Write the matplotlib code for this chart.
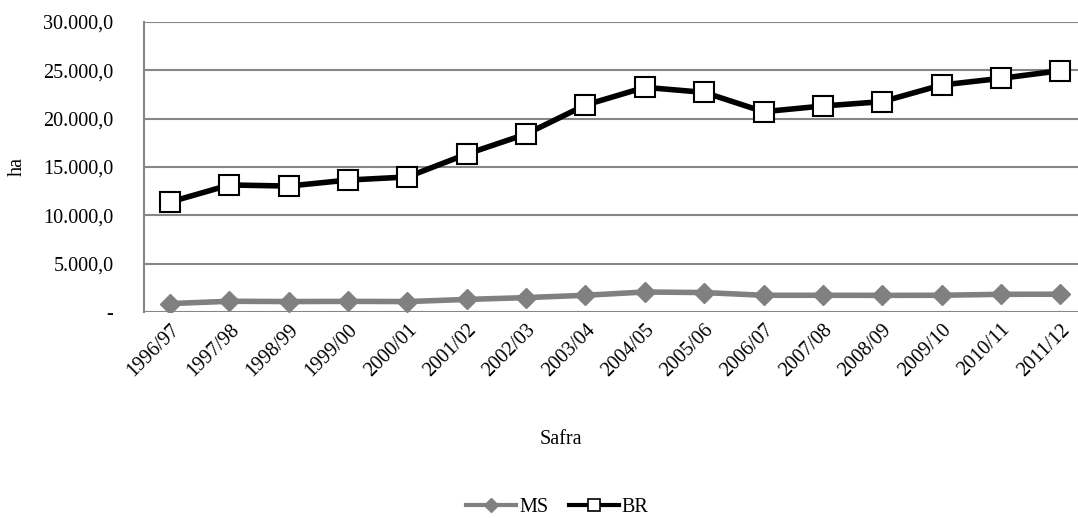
import matplotlib
matplotlib.use("Agg")
import matplotlib.pyplot as plt
from matplotlib.lines import Line2D
from matplotlib.ticker import FuncFormatter

plt.rcParams['font.family'] = ['Liberation Serif', 'DejaVu Serif']

safras = ["1996/97", "1997/98", "1998/99", "1999/00", "2000/01", "2001/02",
          "2002/03", "2003/04", "2004/05", "2005/06", "2006/07", "2007/08",
          "2008/09", "2009/10", "2010/11", "2011/12"]
ms = [870, 1110, 1080, 1100, 1080, 1300, 1490, 1730, 2070, 2010, 1730, 1730,
      1720, 1730, 1830, 1840]
br = [11380, 13140, 13030, 13650, 13970, 16340, 18410, 21410, 23240, 22720,
      20720, 21310, 21760, 23480, 24170, 24960]


def fmt(v, pos):
    if v == 0:
        return "-"
    s = f"{v:,.1f}"
    return s.replace(",", "X").replace(".", ",").replace("X", ".")


fs = 14.5
fig = plt.figure(figsize=(10.78, 5.18), dpi=100)
ax = fig.add_axes([144 / 1078, 1 - 312 / 518, (1078 - 144) / 1078, 290 / 518])

x = list(range(len(safras)))
ax.plot(x, ms, color="#808080", lw=4, marker="D", ms=10, mfc="#808080",
        mec="#808080", zorder=3)
ax.plot(x, br, color="black", lw=4, marker="s", ms=14, mfc="white",
        mec="black", mew=1.5, zorder=4)

ax.set_xlim(-0.44, 15.3)
ax.set_ylim(0, 30000)
ax.set_yticks(range(0, 30001, 5000))
ax.yaxis.set_major_formatter(FuncFormatter(fmt))
ax.set_xticks(x)
ax.set_xticklabels(safras, rotation=45, ha="right", rotation_mode="anchor")
ax.grid(axis="y", color="#868686", lw=1.5)
ax.set_axisbelow(True)
for side in ("top", "right", "bottom"):
    ax.spines[side].set_visible(False)
ax.spines["left"].set_color("#868686")
ax.spines["left"].set_linewidth(1.5)
ax.tick_params(axis="both", length=0, labelsize=fs, pad=6)
ax.tick_params(axis="y", pad=22)

ax.set_ylabel("ha", fontsize=fs, labelpad=12)
fig.text(0.52, 1 - 440 / 518, "Safra", ha="center", va="center", fontsize=fs)

handles = [
    Line2D([], [], color="#808080", lw=3, marker="D", ms=7, mfc="#808080",
           mec="#808080"),
    Line2D([], [], color="black", lw=3, marker="s", ms=8, mfc="white",
           mec="black", mew=1.2),
]
fig.legend(handles, ["MS", "BR"], loc="center",
           bbox_to_anchor=(0.517, 1 - 507 / 518), ncol=2, frameon=False,
           fontsize=fs, handlelength=2.5, columnspacing=1.0,
           handletextpad=0.15)

fig.savefig("out.png", dpi=100)
